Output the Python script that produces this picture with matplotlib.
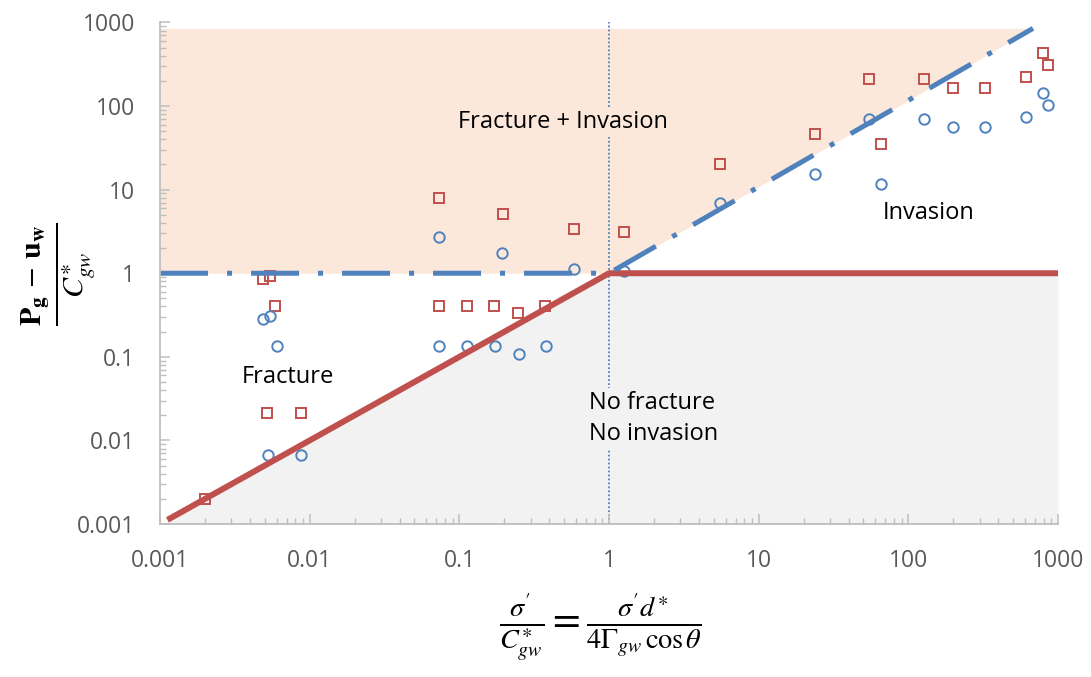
import matplotlib
matplotlib.use('Agg')
import matplotlib.pyplot as plt
from matplotlib.ticker import LogLocator, FixedLocator, FixedFormatter, NullFormatter

# ---------------- data ----------------
tick_values = [0.001, 0.01, 0.1, 1, 10, 100, 1000]
tick_labels = ['0.001', '0.01', '0.1', '1', '10', '100', '1000']

# red open squares
sq_x = [0.00201, 0.0052, 0.0087, 0.0049, 0.0054, 0.0059,
        0.073, 0.195, 0.583, 0.073, 0.112, 0.170, 0.246, 0.373,
        1.26, 5.53, 23.9, 54.8, 65.9, 128, 200, 327, 607, 788, 863]
sq_y = [0.0020, 0.021, 0.021, 0.85, 0.92, 0.41,
        7.9, 5.1, 3.37, 0.41, 0.41, 0.41, 0.33, 0.41,
        3.1, 20.2, 46, 211, 35, 211, 164, 164, 222, 431, 310]

# blue open circles
ci_x = [0.0053, 0.0087, 0.0049, 0.0054, 0.0060,
        0.073, 0.192, 0.583, 0.073, 0.112, 0.172, 0.25, 0.38,
        1.26, 5.53, 23.9, 54.8, 65.9, 128, 200, 327, 607, 788, 863]
ci_y = [0.0066, 0.0066, 0.28, 0.31, 0.134,
        2.70, 1.74, 1.12, 0.134, 0.134, 0.134, 0.107, 0.134,
        1.06, 6.9, 15.3, 70, 11.6, 70, 56, 56, 74, 143, 103]

# boundary lines
blue_x = [0.001, 1, 680]
blue_y = [1, 1, 850]
red_x = [0.00112, 1, 1000]
red_y = [0.00112, 1, 1]
orange_top = 850
gray_bottom = 0.001
div_x = [1, 1]
div_y = [0.001, 1000]

# ---------------- style ----------------
RED = '#C0504D'
BLUE = '#4F81BD'
ORANGE_FILL = '#FCE8DA'
GRAY_FILL = '#F2F2F2'
AX_GRAY = '#BFBFBF'
TXT_GRAY = '#595959'

plt.rcParams['font.family'] = ['Open Sans', 'DejaVu Sans']
plt.rcParams['mathtext.fontset'] = 'stix'

fig = plt.figure(figsize=(10.91, 6.77), dpi=100)
ax = fig.add_axes([0.1467, 0.226, 0.8231, 0.7408])
ax.set_xscale('log')
ax.set_yscale('log')
ax.set_xlim(0.001, 1000)
ax.set_ylim(0.001, 1000)

# region fills
ax.fill_between(blue_x, blue_y, orange_top, color=ORANGE_FILL, lw=0, zorder=0)
ax.fill_between(red_x, gray_bottom, red_y, color=GRAY_FILL, lw=0, zorder=0)

# divider
ax.plot(div_x, div_y, color=BLUE, lw=1.3, ls=(0, (1, 1.2)), zorder=1)

# markers
ax.plot(sq_x, sq_y, ls='none', marker='s', ms=7, mfc='none', mec=RED, mew=1.4, zorder=2)
ax.plot(ci_x, ci_y, ls='none', marker='o', ms=7.5, mfc='none', mec=BLUE, mew=1.4, zorder=2)

# boundary lines
ax.plot(red_x, red_y, color=RED, lw=4.3, solid_capstyle='butt', zorder=3)
ax.plot(blue_x, blue_y, color=BLUE, lw=3.6, ls=(0, (9.6, 3.8, 1, 3.8)), zorder=4)

# region labels
LBL = 17
ax.text(0.492, 64, 'Fracture + Invasion', fontsize=LBL, ha='center', va='center', zorder=5,
        bbox=dict(facecolor=ORANGE_FILL, edgecolor='none', pad=2))
ax.text(136, 5.2, 'Invasion', fontsize=LBL, ha='center', va='center', zorder=5)
ax.text(0.00713, 0.0569, 'Fracture', fontsize=LBL, ha='center', va='center', zorder=5)
ax.text(0.74, 0.0183, 'No fracture\nNo invasion', fontsize=LBL, ha='left', va='center',
        linespacing=1.4, zorder=5, bbox=dict(facecolor=GRAY_FILL, edgecolor='none', pad=2))

# axes styling
for s in ['top', 'right']:
    ax.spines[s].set_visible(False)
for s in ['left', 'bottom']:
    ax.spines[s].set_color(AX_GRAY)
    ax.spines[s].set_linewidth(1.3)
    ax.spines[s].set_zorder(6)

for axis in (ax.xaxis, ax.yaxis):
    axis.set_major_locator(FixedLocator(tick_values))
    axis.set_major_formatter(FixedFormatter(tick_labels))
    axis.set_minor_locator(LogLocator(base=10, subs=range(2, 10), numticks=20))
    axis.set_minor_formatter(NullFormatter())

ax.tick_params(which='major', direction='in', length=7, width=1.1, color=AX_GRAY,
               labelsize=16.5, labelcolor=TXT_GRAY)
ax.tick_params(which='minor', direction='in', length=4, width=1.0, color=AX_GRAY)
ax.tick_params(axis='x', which='major', pad=18)
ax.tick_params(axis='y', which='major', pad=18)

# axis titles (formulas)
fig.text(0.054, 0.595,
         r"$\frac{\mathbf{P}_{\mathbf{g}}\,-\,\mathbf{u}_{\mathbf{w}}}{C^{\ast}_{gw}}$",
         rotation=90, fontsize=31, ha='center', va='center')
fig.text(0.550, 0.073,
         r"$\frac{\sigma'}{C^{\ast}_{gw}}=\frac{\sigma' d^{\ast}}{4\Gamma_{gw}\,\cos\theta}$",
         fontsize=29, ha='center', va='center')

fig.savefig('out.png', dpi=100)
